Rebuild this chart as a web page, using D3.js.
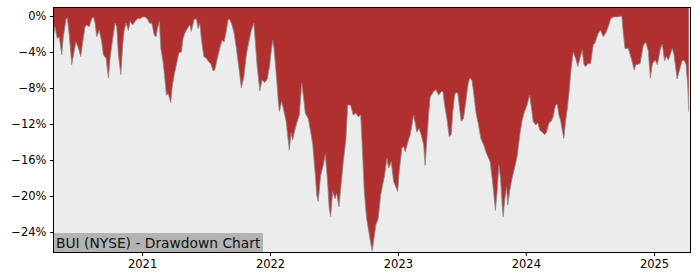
<!DOCTYPE html>
<html>
<head>
<meta charset="utf-8">
<script src="https://cdn.jsdelivr.net/npm/d3@7"></script>
<style>
  html, body { margin: 0; padding: 0; background: #ffffff; }
  svg { display: block; font-family: "DejaVu Sans", sans-serif; }
</style>
</head>
<body>
<svg id="chart" width="700" height="280"></svg>
<script>
// Chart title
const title = "BUI (NYSE) - Drawdown Chart";

// Dates as decimal years
const years = [
  2020.305, 2020.313, 2020.320, 2020.338, 2020.354, 2020.373, 2020.385, 2020.406, 2020.416, 2020.432,
  2020.451, 2020.469, 2020.484, 2020.502, 2020.521, 2020.537, 2020.555, 2020.568, 2020.588, 2020.607,
  2020.620, 2020.633, 2020.646, 2020.666, 2020.685, 2020.698, 2020.719, 2020.737, 2020.750, 2020.771,
  2020.789, 2020.802, 2020.815, 2020.834, 2020.849, 2020.859, 2020.875, 2020.893, 2020.906, 2020.927,
  2020.945, 2020.963, 2020.984, 2021.005, 2021.023, 2021.041, 2021.057, 2021.076, 2021.094, 2021.109,
  2021.120, 2021.135, 2021.146, 2021.164, 2021.177, 2021.190, 2021.203, 2021.224, 2021.234, 2021.250,
  2021.268, 2021.287, 2021.307, 2021.320, 2021.334, 2021.354, 2021.373, 2021.385, 2021.406, 2021.424,
  2021.438, 2021.451, 2021.463, 2021.482, 2021.502, 2021.521, 2021.537, 2021.555, 2021.568, 2021.588,
  2021.607, 2021.625, 2021.641, 2021.659, 2021.672, 2021.685, 2021.703, 2021.719, 2021.737, 2021.755,
  2021.776, 2021.797, 2021.815, 2021.834, 2021.854, 2021.873, 2021.885, 2021.898, 2021.920, 2021.938,
  2021.959, 2021.979, 2021.998, 2022.006, 2022.021, 2022.031, 2022.047, 2022.065, 2022.073, 2022.091,
  2022.109, 2022.125, 2022.135, 2022.151, 2022.164, 2022.177, 2022.188, 2022.209, 2022.229, 2022.248,
  2022.260, 2022.276, 2022.299, 2022.318, 2022.334, 2022.352, 2022.365, 2022.377, 2022.396, 2022.416,
  2022.432, 2022.448, 2022.463, 2022.474, 2022.490, 2022.508, 2022.521, 2022.539, 2022.552, 2022.573,
  2022.594, 2022.607, 2022.630, 2022.651, 2022.672, 2022.690, 2022.709, 2022.724, 2022.737, 2022.755,
  2022.773, 2022.789, 2022.799, 2022.813, 2022.828, 2022.846, 2022.865, 2022.880, 2022.896, 2022.914,
  2022.927, 2022.948, 2022.966, 2022.984, 2022.998, 2023.010, 2023.031, 2023.045, 2023.057, 2023.078,
  2023.096, 2023.123, 2023.135, 2023.148, 2023.166, 2023.182, 2023.201, 2023.213, 2023.227, 2023.240,
  2023.252, 2023.279, 2023.297, 2023.318, 2023.338, 2023.352, 2023.365, 2023.383, 2023.401, 2023.416,
  2023.430, 2023.443, 2023.453, 2023.469, 2023.482, 2023.495, 2023.513, 2023.531, 2023.547, 2023.560,
  2023.578, 2023.591, 2023.609, 2023.630, 2023.648, 2023.670, 2023.688, 2023.709, 2023.721, 2023.734,
  2023.748, 2023.762, 2023.776, 2023.789, 2023.802, 2023.815, 2023.823, 2023.836, 2023.849, 2023.859,
  2023.873, 2023.893, 2023.912, 2023.932, 2023.953, 2023.971, 2023.990, 2024.010, 2024.029, 2024.041,
  2024.057, 2024.076, 2024.094, 2024.109, 2024.127, 2024.146, 2024.162, 2024.180, 2024.198, 2024.213,
  2024.232, 2024.245, 2024.258, 2024.271, 2024.284, 2024.297, 2024.310, 2024.323, 2024.338, 2024.354,
  2024.370, 2024.388, 2024.406, 2024.422, 2024.440, 2024.453, 2024.466, 2024.484, 2024.505, 2024.526,
  2024.539, 2024.565, 2024.584, 2024.604, 2024.623, 2024.643, 2024.662, 2024.682, 2024.711, 2024.748,
  2024.760, 2024.773, 2024.799, 2024.826, 2024.845, 2024.859, 2024.891, 2024.916, 2024.935, 2024.955,
  2024.971, 2024.987, 2025.008, 2025.026, 2025.049, 2025.064, 2025.082, 2025.094, 2025.112, 2025.142,
  2025.156, 2025.180, 2025.201, 2025.221, 2025.238, 2025.250, 2025.263, 2025.271
];

// Drawdown in percent
const drawdown = [
  -4.9, -1.8, -1.2, -2.5, -2.3, -4.3, -2.4, -0.4, -0.2, -2.1,
  -5.4, -4.0, -2.9, -3.5, -4.5, -2.9, -1.2, -1.0, -1.2, -0.3,
  -0.1, -0.8, -2.3, -1.6, -2.9, -4.3, -4.7, -6.9, -4.7, -2.5,
  -0.8, -1.2, -4.3, -6.5, -3.2, -1.7, -0.8, -1.6, -0.6, -1.0,
  -0.6, -0.3, -0.3, -0.1, -0.1, -0.3, -0.8, -0.8, -2.1, -2.3,
  -1.4, -0.6, -3.6, -5.1, -6.9, -8.8, -8.6, -9.6, -8.0, -6.6,
  -5.4, -4.1, -4.0, -2.5, -1.9, -1.4, -1.0, -1.7, -0.4, -0.3,
  -1.4, -0.8, -2.5, -4.5, -4.7, -5.1, -5.3, -6.1, -6.0, -4.7,
  -3.6, -2.7, -2.9, -1.6, -0.4, -0.4, -1.0, -1.9, -3.6, -5.6,
  -8.0, -6.6, -4.3, -2.9, -1.6, -0.8, -2.9, -5.4, -8.3, -7.1,
  -7.4, -7.0, -5.4, -4.3, -2.7, -3.6, -6.2, -9.5, -10.6, -9.5,
  -10.6, -11.6, -12.9, -14.9, -13.0, -13.8, -13.0, -11.9, -11.0, -7.5,
  -8.8, -10.8, -11.4, -12.9, -14.3, -17.3, -19.9, -20.6, -17.7, -16.6,
  -15.4, -18.0, -21.4, -22.3, -19.5, -20.3, -19.7, -21.2, -19.3, -16.2,
  -13.6, -9.9, -9.9, -11.0, -10.8, -11.2, -11.0, -15.4, -19.5, -22.5,
  -24.0, -25.4, -26.1, -24.7, -23.2, -22.5, -19.9, -18.8, -17.7, -15.8,
  -16.9, -16.2, -18.4, -19.0, -19.5, -17.3, -14.7, -14.5, -15.1, -14.0,
  -13.2, -11.0, -11.9, -12.9, -12.5, -13.2, -14.3, -16.6, -13.6, -11.0,
  -9.0, -8.4, -8.2, -8.8, -8.4, -8.4, -9.9, -11.4, -13.4, -13.2,
  -10.6, -8.8, -8.5, -8.6, -10.3, -11.7, -11.4, -9.5, -7.7, -6.9,
  -7.1, -8.4, -10.6, -12.1, -13.6, -14.3, -15.1, -15.8, -16.2, -17.7,
  -19.5, -21.6, -19.5, -16.6, -18.0, -21.0, -22.3, -20.3, -19.0, -21.0,
  -19.5, -18.0, -16.9, -15.6, -13.2, -11.6, -10.6, -9.9, -8.8, -9.9,
  -11.7, -12.1, -11.9, -12.7, -12.9, -13.2, -12.9, -11.9, -11.7, -11.2,
  -9.9, -9.8, -11.0, -11.6, -12.7, -13.6, -11.7, -10.4, -8.4, -5.8,
  -4.0, -4.7, -5.6, -4.7, -3.8, -5.4, -5.6, -5.3, -5.3, -3.2,
  -3.0, -1.9, -1.6, -2.3, -1.9, -1.2, -0.3, -0.1, -0.1, 0.0,
  -1.9, -3.6, -3.6, -4.9, -6.0, -5.4, -5.3, -3.3, -2.9, -3.9,
  -6.9, -5.3, -4.9, -5.4, -3.7, -3.1, -5.0, -4.5, -4.9, -3.6,
  -4.3, -7.0, -5.9, -4.9, -5.0, -5.4, -7.7, -10.6
];

// Axis ticks
const yTicks = [0, -4, -8, -12, -16, -20, -24];
const xTickYears = [2021, 2022, 2023, 2024, 2025];

function yearToDate(t) {
  const y = Math.floor(t);
  const a = Date.UTC(y, 0, 1), b = Date.UTC(y + 1, 0, 1);
  return new Date(a + (t - y) * (b - a));
}

const data = years.map((t, i) => ({ date: yearToDate(t), v: drawdown[i] }));

const svg = d3.select("#chart");
const W = 700, H = 280;
const m = { left: 53, right: 10, top: 7, bottom: 28 };
const x0 = m.left, x1 = W - m.right, y0 = m.top, y1 = H - m.bottom;

const x = d3.scaleUtc()
  .domain([yearToDate(2020.305), yearToDate(2025.281)])
  .range([x0, x1]);
const y = d3.scaleLinear()
  .domain([1.0, -26.22])
  .range([y0, y1]);

// plot background
svg.append("rect")
  .attr("x", x0).attr("y", y0)
  .attr("width", x1 - x0).attr("height", y1 - y0)
  .attr("fill", "#ececec");

svg.append("clipPath").attr("id", "clip")
  .append("rect").attr("x", x0).attr("y", y0)
  .attr("width", x1 - x0).attr("height", y1 - y0);

const g = svg.append("g").attr("clip-path", "url(#clip)");

const area = d3.area()
  .x(d => x(d.date))
  .y0(y(1.0))
  .y1(d => y(d.v));

g.append("path")
  .datum(data)
  .attr("d", area)
  .attr("fill", "#b03030");

g.append("path")
  .datum(data)
  .attr("d", d3.line().x(d => x(d.date)).y(d => y(d.v)))
  .attr("fill", "none")
  .attr("stroke", "#8a8a8a")
  .attr("stroke-width", 0.8);

// title label box
const label = svg.append("g");
label.append("rect")
  .attr("x", x0).attr("y", 233)
  .attr("width", 210).attr("height", y1 - 233)
  .attr("fill", "#b3b3b3");
label.append("text")
  .attr("x", x0 + 3).attr("y", 248)
  .attr("font-size", 13.8)
  .attr("fill", "#111")
  .text(title);

// axes
const fmt = v => (v < 0 ? "\u2212" + Math.abs(v) : String(v)) + "%";

const yAxis = d3.axisLeft(y)
  .tickValues(yTicks)
  .tickFormat(fmt)
  .tickSize(3.5)
  .tickPadding(3.5);

const yg = svg.append("g")
  .attr("transform", `translate(${x0 + 0.5},0)`)
  .call(yAxis);

const xAxis = d3.axisBottom(x)
  .tickValues(xTickYears.map(t => yearToDate(t)))
  .tickFormat(d3.utcFormat("%Y"))
  .tickSize(3.5)
  .tickPadding(3.5);

const xg = svg.append("g")
  .attr("transform", `translate(0,${y1 + 0.5})`)
  .call(xAxis);

[yg, xg].forEach(a => {
  a.select(".domain").remove();
  a.selectAll("line").attr("stroke", "#000").attr("stroke-width", 1);
  a.selectAll("text")
    .attr("font-family", "DejaVu Sans, sans-serif")
    .attr("font-size", 11.5)
    .attr("fill", "#000");
});

// frame
svg.append("rect")
  .attr("x", x0 + 0.5).attr("y", y0 + 0.5)
  .attr("width", x1 - x0).attr("height", y1 - y0)
  .attr("fill", "none")
  .attr("stroke", "#000")
  .attr("stroke-width", 1);
</script>
</body>
</html>
